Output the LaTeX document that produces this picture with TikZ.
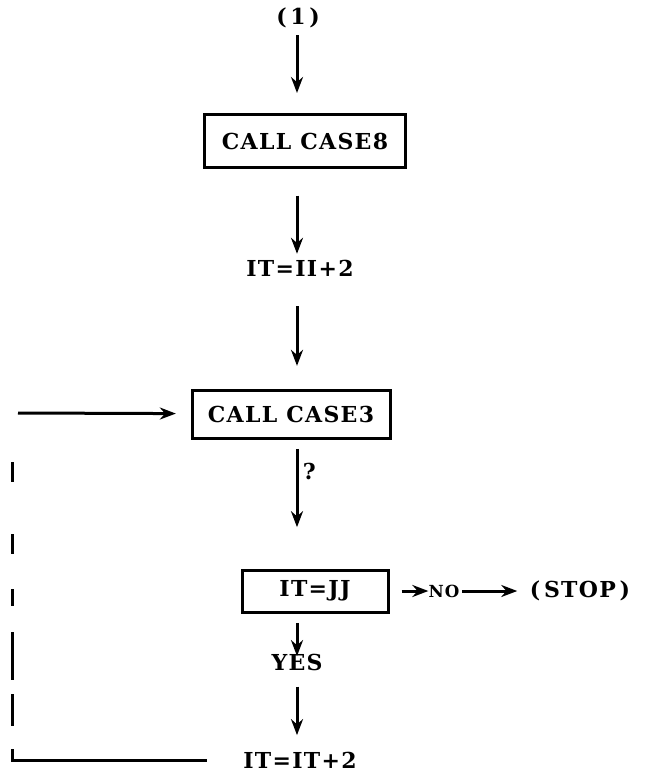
\documentclass[tikz,border=0pt]{standalone}
\usepackage{fontspec}
\usetikzlibrary{arrows.meta}
\setmainfont{DejaVu Serif}
\newfontfamily\flowfont[LetterSpace=6]{DejaVu Serif}
\begin{document}
\begin{tikzpicture}
         [x=0.75pt, y=-0.75pt,
          txt/.style={font=\flowfont\bfseries\fontsize{16.5}{19}\selectfont},
          box/.style={txt,draw,line width=2.25pt},
          arr/.style={-{Stealth[length=12pt,width=9pt]},line width=2.25pt}]
         \useasboundingbox (0,0) rectangle (647,778);
         \node[txt] (one) at (298,18) {(\,1\,)};
         \node[box, minimum width=150.75pt, minimum height=39.75pt] (case8) at (305,141) {CALL CASE8};
         \node[txt] (ii) at (300,268) {IT=II+2};
         \node[box, minimum width=148.5pt, minimum height=36pt] (case3) at (291,414) {CALL CASE3};
         \node[box, minimum width=109.5pt, minimum height=31.5pt] (jj) at (315,591) {IT=JJ};
         \node[txt, font=\flowfont\bfseries\fontsize{12.5}{14}\selectfont, inner sep=0pt] (no) at (444,591) {NO};
         \node[txt] (stop) at (580,591) {(\,STOP\,)};
         \node[txt, inner sep=0pt] (yes) at (297,662) {YES};
         \node[txt] (itit) at (300,760) {IT=IT+2};
         \coordinate (entry) at (18,413);
         \coordinate (corner) at (12,763);
         \coordinate (top) at (12,458);

         \draw[arr, shorten <=2pt, shorten >=15pt] (one.south -| yes) -- (case8.north -| yes);
         \draw[arr, shorten <=20pt, shorten >=1pt] (case8.south -| yes) -- (ii.north -| yes);
         \draw[arr, shorten <=19pt, shorten >=17pt] (ii.south -| yes) -- (case3.north -| yes);
         \draw[arr, shorten >=11pt] (entry) -- (case3);
         \draw[arr, shorten <=7pt, shorten >=31pt] (case3.south -| yes) -- node[txt, right, pos=0.25] {?} (jj.north -| yes);
         \draw[arr, shorten <=9pt] (jj) -- (no);
         \draw[arr, shorten <=2pt, shorten >=6pt] (no) -- (stop);
         \draw[arr, shorten <=7pt, shorten >=-2pt] (jj.south -| yes) -- (yes);
         \draw[arr, shorten <=12pt, shorten >=9pt] (yes) -- (itit.north -| yes);
         \draw[line width=2.25pt, shorten <=24pt,
               dash pattern=on 154.5pt off 17.25pt on 24pt off 10.5pt on 36pt off 19.5pt on 12.75pt off 26.25pt on 15pt off 39pt on 15pt off 20pt]
               (itit.west) -- (itit.west -| corner) -- (top);
      \end{tikzpicture}
\end{document}
